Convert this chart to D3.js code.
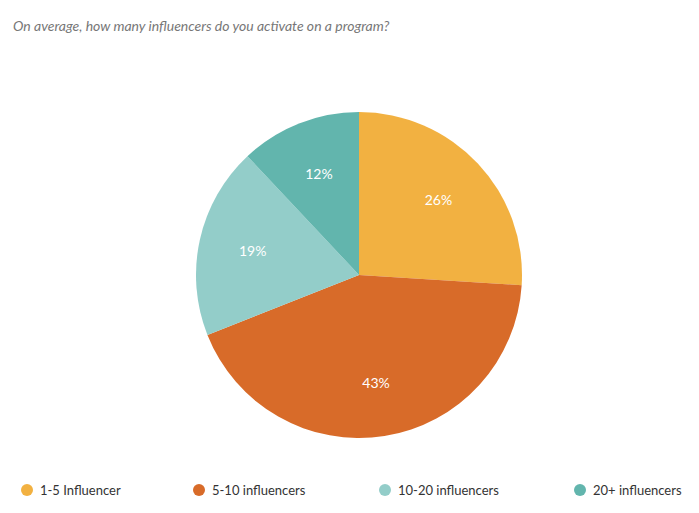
<!DOCTYPE html>
<html><head><meta charset="utf-8">
<script src="https://cdn.jsdelivr.net/npm/d3@7"></script>
<style>body{margin:0;background:#fff}</style>
</head><body>
<svg id="chart" width="699" height="513"></svg>
<script>
const categories = ["1-5 Influencer", "5-10 influencers", "10-20 influencers", "20+ influencers"];
const values = [26, 43, 19, 12];
const colors = ["#F2B141", "#D86B29", "#93CDC9", "#62B5AD"];
const legendX = [27, 199, 385, 580];

const svg = d3.select("#chart");
const font = "Lato, 'Open Sans', sans-serif";

svg.append("text")
    .attr("x", 13).attr("y", 31)
    .attr("font-family", font).attr("font-style", "italic")
    .attr("font-size", 14).attr("fill", "#777")
    .text("On average, how many influencers do you activate on a program?");

const cx = 359, cy = 275, r = 163;
const pie = d3.pie().sort(null).value(d => d);
const arc = d3.arc().innerRadius(0).outerRadius(r);
const labelArc = d3.arc().innerRadius(109).outerRadius(109);

const g = svg.append("g").attr("transform", `translate(${cx},${cy})`);
const arcs = pie(values);
g.selectAll("path").data(arcs).enter().append("path")
    .attr("d", arc).attr("fill", (d, i) => colors[i]);
g.selectAll("text").data(arcs).enter().append("text")
    .attr("transform", d => `translate(${labelArc.centroid(d)})`)
    .attr("text-anchor", "middle").attr("dy", "0.35em")
    .attr("font-family", font).attr("font-size", 14).attr("fill", "#fff")
    .text(d => d.data + "%");

const legend = svg.selectAll(".leg").data(categories).enter().append("g")
    .attr("transform", (d, i) => `translate(${legendX[i]},490)`);
legend.append("circle").attr("r", 6).attr("fill", (d, i) => colors[i]);
legend.append("text").attr("x", 13).attr("dy", "0.35em")
    .attr("font-family", font).attr("font-size", 13).attr("fill", "#333")
    .text(d => d);
</script>
</body></html>
